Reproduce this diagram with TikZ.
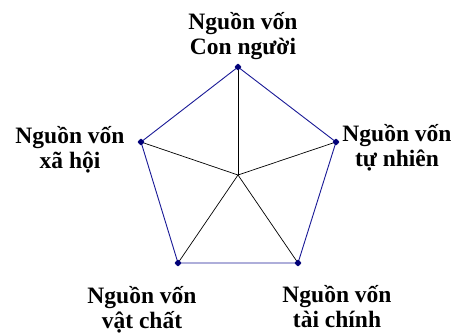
\documentclass[tikz,border=0pt]{standalone}
\usepackage{fontspec}
\setmainfont{Liberation Serif}
\usetikzlibrary{shapes.geometric}
\definecolor{pblue}{RGB}{25,25,150}
\definecolor{navy}{RGB}{0,0,120}
\begin{document}
\begin{tikzpicture}[x=1pt,y=-1pt,
  edge/.style={draw=pblue,line width=0.9pt},
  spoke/.style={draw=black,line width=0.7pt},
  vmark/.style={diamond,fill=navy,draw=navy,line width=0.4pt,rounded corners=0.6pt,inner sep=0pt,minimum size=7pt},
  lbl/.style={font=\bfseries\fontsize{23.5}{25}\selectfont,align=center,inner sep=0pt}]
\useasboundingbox (0,0) rectangle (456,333);
\coordinate (c) at (238,175);
\coordinate (p1) at (238,67);
\coordinate (p2) at (336,142);
\coordinate (p3) at (298,263);
\coordinate (p4) at (178,263);
\coordinate (p5) at (141,142);
\draw[spoke] (c) -- (p1);
\draw[spoke] (c) -- (p2);
\draw[spoke] (c) -- (p3);
\draw[spoke] (c) -- (p4);
\draw[spoke] (c) -- (p5);
\draw[edge] (p1) -- (p2) -- (p3) -- (p4) -- (p5) -- cycle;
\node[vmark] (m1) at (p1) {};
\node[vmark] (m2) at (p2) {};
\node[vmark] (m3) at (p3) {};
\node[vmark] (m4) at (p4) {};
\node[vmark] (m5) at (p5) {};
\node[lbl] (l1) at (243,36) {Nguồn vốn\\Con người};
\node[lbl] (l2) at (397,148) {Nguồn vốn\\tự nhiên};
\node[lbl] (l3) at (337,307) {Nguồn vốn\\tài chính};
\node[lbl] (l4) at (142,310) {Nguồn vốn\\vật chất};
\node[lbl] (l5) at (70,150) {Nguồn vốn\\xã hội};
\end{tikzpicture}
\end{document}
